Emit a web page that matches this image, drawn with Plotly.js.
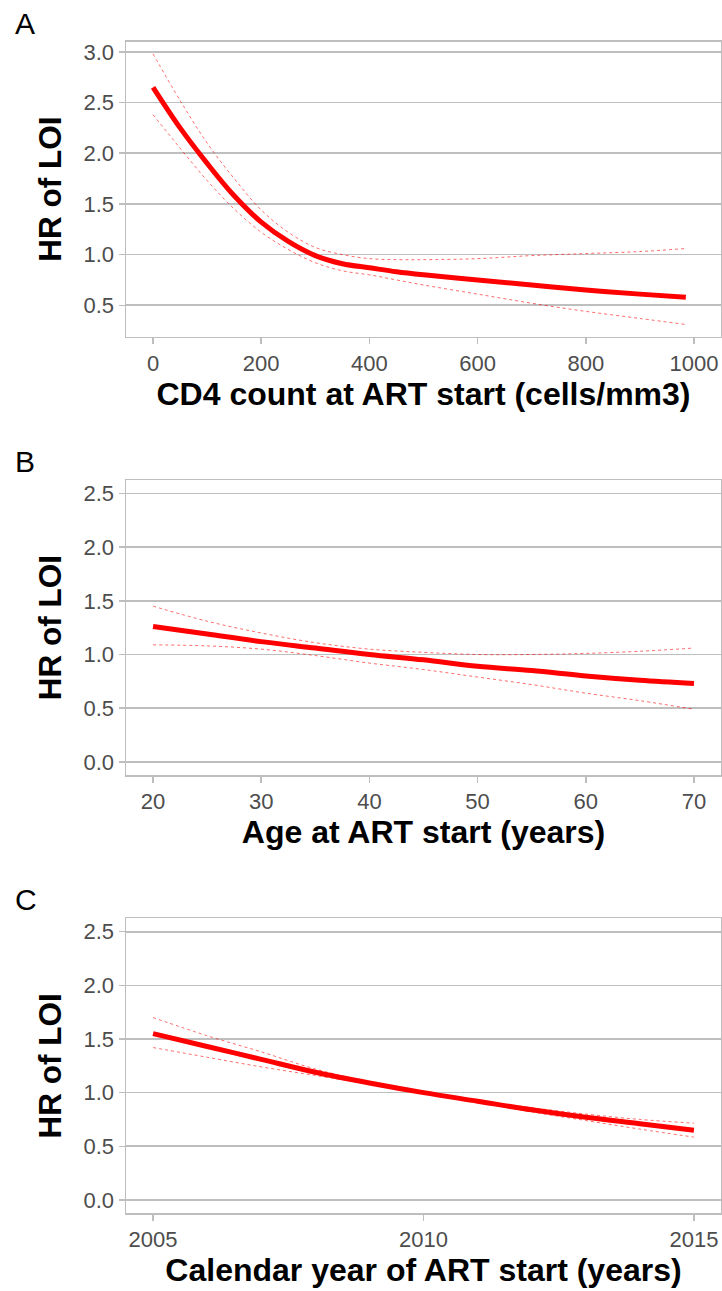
<!DOCTYPE html>
<html>
<head>
<meta charset="utf-8">
<script src="https://cdn.plot.ly/plotly-3.0.1.min.js"></script>
<style>html,body{margin:0;padding:0;background:#fff;}#chart{width:722px;height:1291px;}</style>
</head>
<body>
<div id="chart"></div>
<script>
// Panel A: CD4 count at ART start
const cd4 = [0, 50, 100, 150, 200, 250, 300, 350, 400, 450, 500, 600, 700, 800, 900, 985];
const cd4HR = [2.65, 2.25, 1.90, 1.58, 1.32, 1.13, 0.99, 0.91, 0.87, 0.83, 0.80, 0.75, 0.70, 0.65, 0.61, 0.58];
const cd4Upper = [2.98, 2.52, 2.10, 1.75, 1.44, 1.22, 1.07, 1.00, 0.96, 0.95, 0.95, 0.96, 0.99, 1.01, 1.03, 1.06];
const cd4Lower = [2.38, 2.05, 1.73, 1.45, 1.22, 1.05, 0.92, 0.84, 0.80, 0.75, 0.70, 0.61, 0.52, 0.44, 0.37, 0.31];

// Panel B: Age at ART start
const age = [20, 25, 30, 35, 40, 45, 50, 55, 60, 65, 70];
const ageHR = [1.26, 1.19, 1.12, 1.06, 1.00, 0.95, 0.89, 0.85, 0.80, 0.76, 0.73];
const ageUpper = [1.45, 1.31, 1.20, 1.11, 1.05, 1.02, 1.00, 1.00, 1.01, 1.03, 1.06];
const ageLower = [1.09, 1.08, 1.05, 0.99, 0.92, 0.86, 0.79, 0.72, 0.64, 0.57, 0.49];

// Panel C: Calendar year of ART start
const year = [2005, 2006, 2007, 2008, 2009, 2010, 2011, 2012, 2013, 2014, 2015];
const yearHR = [1.55, 1.43, 1.31, 1.19, 1.09, 1.00, 0.92, 0.84, 0.77, 0.71, 0.65];
const yearUpper = [1.70, 1.53, 1.38, 1.22, 1.10, 1.00, 0.93, 0.86, 0.80, 0.75, 0.715];
const yearLower = [1.42, 1.33, 1.24, 1.16, 1.08, 1.00, 0.91, 0.82, 0.74, 0.66, 0.585];

const panelLetters = ['A', 'B', 'C'];
const xTitles = ['CD4 count at ART start (cells/mm3)', 'Age at ART start (years)', 'Calendar year of ART start (years)'];
const yTitle = 'HR of LOI';
const xTicksA = [0, 200, 400, 600, 800, 1000];
const xTicksB = [20, 30, 40, 50, 60, 70];
const xTicksC = [2005, 2010, 2015];
const yTicksA = [0.5, 1.0, 1.5, 2.0, 2.5, 3.0];
const yTicksBC = [0.0, 0.5, 1.0, 1.5, 2.0, 2.5];

const W = 722, H = 1291;
const L = 126, R = 721;
const panels = [
  {top: 41.7, bottom: 336.7},
  {top: 480, bottom: 775.3},
  {top: 918.3, bottom: 1213.3}
];

const grey = '#bebebe';
const FONT = 'Liberation Sans, Arial, Helvetica, sans-serif';

const mainLine = {color: '#ff0000', width: 5};
const ciLine = {color: 'rgba(255,0,0,0.65)', width: 0.9, dash: 'dot'};

const sets = [
  [cd4, cd4HR, cd4Upper, cd4Lower],
  [age, ageHR, ageUpper, ageLower],
  [year, yearHR, yearUpper, yearLower]
];

const traces = [];
sets.forEach((s, i) => {
  const xa = i === 0 ? 'x' : 'x' + (i + 1);
  const ya = i === 0 ? 'y' : 'y' + (i + 1);
  traces.push({x: s[0], y: s[2], xaxis: xa, yaxis: ya, mode: 'lines', line: Object.assign({shape: 'spline'}, ciLine), hoverinfo: 'skip'});
  traces.push({x: s[0], y: s[3], xaxis: xa, yaxis: ya, mode: 'lines', line: Object.assign({shape: 'spline'}, ciLine), hoverinfo: 'skip'});
  traces.push({x: s[0], y: s[1], xaxis: xa, yaxis: ya, mode: 'lines', line: Object.assign({shape: 'spline'}, mainLine)});
});

function xAxis(i, range, tickvals, anchor) {
  return {
    domain: [L / W, R / W], anchor: anchor, range: range,
    tickmode: 'array', tickvals: tickvals,
    showgrid: false, zeroline: false,
    showline: true, mirror: true, linecolor: grey, linewidth: 1.5,
    ticks: 'outside', ticklen: 6, tickwidth: 1.5, tickcolor: grey,
    tickfont: {family: FONT, size: 22, color: '#4d4d4d'},
    title: {text: xTitles[i], font: {family: FONT, size: 32, color: '#000', weight: 'bold'}, standoff: 3}
  };
}
function yAxis(i, range, tickvals, anchor) {
  const p = panels[i];
  return {
    domain: [1 - p.bottom / H, 1 - p.top / H], anchor: anchor, range: range,
    tickmode: 'array', tickvals: tickvals, ticktext: tickvals.map(v => v.toFixed(1)),
    showgrid: true, gridcolor: grey, gridwidth: 1.6, zeroline: false,
    showline: true, mirror: true, linecolor: grey, linewidth: 1.5,
    ticks: 'outside', ticklen: 6, tickwidth: 1.5, tickcolor: grey,
    tickfont: {family: FONT, size: 22, color: '#4d4d4d'},
    title: {text: yTitle, font: {family: FONT, size: 31.5, color: '#000', weight: 'bold'}, standoff: 12}
  };
}

const layout = {
  width: W, height: H,
  margin: {l: 0, r: 0, t: 0, b: 0},
  paper_bgcolor: '#fff', plot_bgcolor: '#fff',
  showlegend: false,
  xaxis: xAxis(0, [-50, 1050], xTicksA, 'y'),
  yaxis: yAxis(0, [0.19, 3.10], yTicksA, 'x'),
  xaxis2: xAxis(1, [17.5, 72.5], xTicksB, 'y2'),
  yaxis2: yAxis(1, [-0.125, 2.625], yTicksBC, 'x2'),
  xaxis3: xAxis(2, [2004.5, 2015.5], xTicksC, 'y3'),
  yaxis3: yAxis(2, [-0.125, 2.625], yTicksBC, 'x3'),
  annotations: panels.map((p, i) => ({
    text: panelLetters[i], xref: 'paper', yref: 'paper',
    x: 13 / W, y: 1 - (p.top - 37) / H, xanchor: 'left', yanchor: 'top',
    showarrow: false, font: {family: FONT, size: 30, color: '#000'}
  }))
};

Plotly.newPlot('chart', traces, layout, {staticPlot: true, displayModeBar: false});
</script>
</body>
</html>
